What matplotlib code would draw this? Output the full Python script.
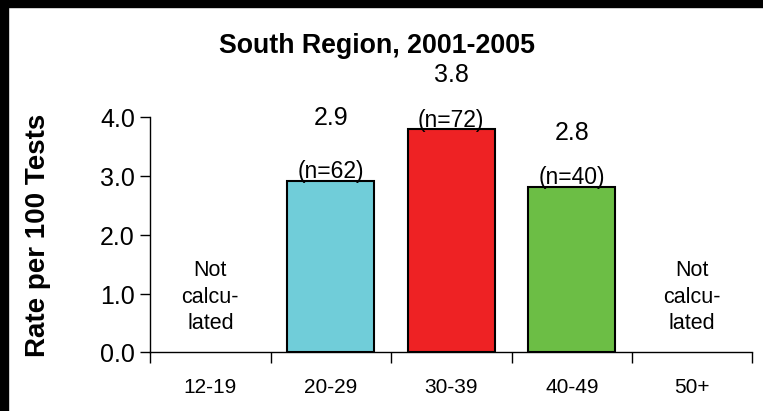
import matplotlib.pyplot as plt
import matplotlib.patches as patches
from matplotlib.transforms import offset_copy

plt.rcParams['font.family'] = ['Liberation Sans', 'DejaVu Sans']

# 資料
age_groups = ['12-19', '20-29', '30-39', '40-49', '50+']
rates = [None, 2.92, 3.80, 2.82, None]
rate_labels = ['', '2.9', '3.8', '2.8', '']
n_labels = ['', '(n=62)', '(n=72)', '(n=40)', '']
bar_colors = ['white', '#70CDD9', '#EE2224', '#6CBE45', 'white']
missing_text = 'Not\ncalcu-\nlated'

# 數值標籤離柱頂的距離(像素)
label_gaps = [0, 56, 48, 47, 0]

fig = plt.figure(figsize=(7.635, 4.115), dpi=100)
ax = fig.add_axes([150 / 763, 1 - 352.5 / 411, 602 / 763, 234.8 / 411])

# 黑色外框 (上、左)
fig.patches.append(patches.Rectangle((0, 1 - 7 / 411), 1, 7 / 411, transform=fig.transFigure,
                                     color='black', zorder=10))
fig.patches.append(patches.Rectangle((0, 0), 8 / 763, 1, transform=fig.transFigure,
                                     color='black', zorder=10))

x = list(range(len(age_groups)))
for i, r in enumerate(rates):
    if r is None:
        ax.text(i, 0.95, missing_text, ha='center', va='center', fontsize=15.5,
                linespacing=1.33)
        continue
    ax.bar(i, r, width=0.72, color=bar_colors[i], edgecolor='black', linewidth=1.5, zorder=2)
    tr = offset_copy(ax.transData, fig=fig, x=0, y=3, units='dots')
    ax.text(i, r, n_labels[i], ha='center', va='baseline', fontsize=16.5, zorder=3,
            clip_on=False, transform=tr)
    tr2 = offset_copy(ax.transData, fig=fig, x=0, y=label_gaps[i], units='dots')
    ax.text(i, r, rate_labels[i], ha='center', va='baseline', fontsize=18,
            clip_on=False, transform=tr2)

ax.set_xlim(-0.5, 4.5)
ax.set_ylim(0, 4)
ax.set_yticks([0, 1, 2, 3, 4])
ax.set_yticklabels(['0.0', '1.0', '2.0', '3.0', '4.0'], fontsize=18)
ax.set_xticks([-0.5, 0.5, 1.5, 2.5, 3.5, 4.5])
ax.set_xticklabels([])
ax.set_xticks(x, minor=True)
ax.set_xticklabels(age_groups, minor=True, fontsize=15)
ax.tick_params(axis='x', which='major', direction='out', length=8, width=1)
ax.tick_params(axis='x', which='minor', length=0, pad=18)
ax.tick_params(axis='y', direction='out', length=7, width=1, pad=4)

for s in ['top', 'right']:
    ax.spines[s].set_visible(False)
for s in ['left', 'bottom']:
    ax.spines[s].set_linewidth(1)

ax.set_ylabel('Rate per 100 Tests', fontsize=20, fontweight='bold')
ax.yaxis.set_label_coords(-0.165, 0.5)
fig.text(377 / 763, 1 - 46 / 411, 'South Region, 2001-2005', ha='center', va='center',
         fontsize=19.3, fontweight='bold')

fig.savefig('out.png', dpi=100)
